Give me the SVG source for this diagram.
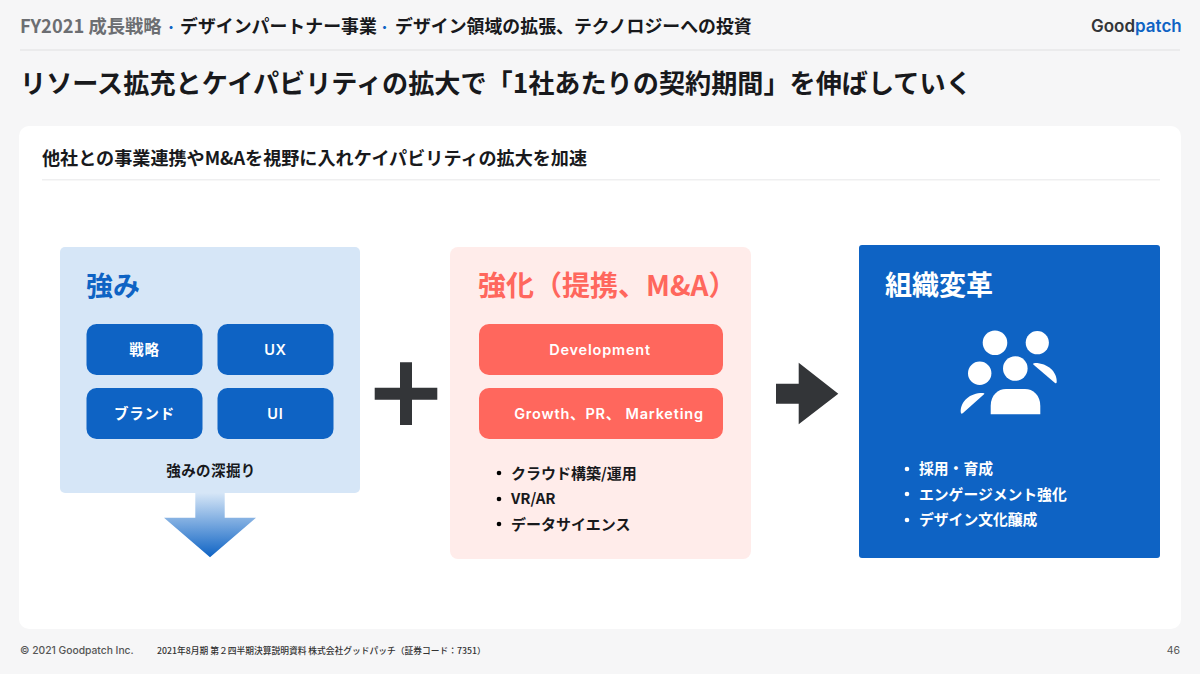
<svg xmlns="http://www.w3.org/2000/svg" width="1200" height="674" viewBox="0 0 1200 674">
<style>
text{font-family:"Noto Sans CJK JP","Noto Sans",sans-serif;font-weight:700;fill:#18191c}
.h{font-size:17.900px}
.b{font-size:14.500px;letter-spacing:.4px}
.w{fill:#fff;text-anchor:middle;font-size:14.500px;letter-spacing:.8px;font-family:Inter,"Noto Sans CJK JP",sans-serif;font-weight:600}
.l{font-size:15px}
.m{font-size:14.800px;fill:#fff}
.dark{fill:#333538}
.blue{fill:#0e63c4}
.coral{fill:#ff675d}
</style>
<defs>
<linearGradient id="g" x1="0" y1="0" x2="0" y2="1"><stop offset="0" stop-color="#d6e6f7"/><stop offset="1" stop-color="#0e63c4"/></linearGradient>
</defs>
<rect width="1200" height="674" fill="#f6f6f7"/>
<g id="header">
<text class="h" y="33"><tspan x="20" style="font-size:18.300px;fill:#6c6e72">FY2021 成長戦略</tspan><tspan x="165" style="font-size:12px;fill:#0e63c4">・</tspan><tspan x="180">デザインパートナー事業</tspan><tspan x="378.500" style="font-size:12px;fill:#0e63c4">・</tspan><tspan x="395">デザイン領域の拡張、テクノロジーへの投資</tspan></text>
<rect x="20" y="49" width="1160" height="2" fill="#ebebec"/>
<text x="1091" y="31.500" style="font-family:Inter,sans-serif;font-size:17px;font-weight:600;fill:#333538">Good<tspan style="fill:#0e63c4">patch</tspan></text>
</g>
<text id="title" x="20" y="93" style="font-size:26.150px">リソース拡充とケイパビリティの拡大で「1社あたりの契約期間」を伸ばしていく</text>
<rect x="19" y="126" width="1162" height="503" rx="10" fill="#fff"/>
<text x="42" y="165" style="font-size:18.100px">他社との事業連携やM&amp;Aを視野に入れケイパビリティの拡大を加速</text>
<rect x="42" y="179" width="1118" height="1.500" fill="#efeff0"/>

<g id="down-arrow"><path d="M195.300 493H224.700V517.700H256L210 557.300L164 517.700H195.300Z" fill="url(#g)"/></g>
<g id="strength">
<rect x="60" y="247" width="300" height="246" rx="5" fill="#d6e6f7"/>
<text x="86" y="296" style="font-size:27px;fill:#0e63c4">強み</text>
<rect class="blue" x="86.500" y="324" width="116" height="51" rx="10"/><text class="w" x="144.500" y="355">戦略</text>
<rect class="blue" x="217.500" y="324" width="116" height="51" rx="10"/><text class="w" x="275.500" y="355">UX</text>
<rect class="blue" x="86.500" y="388" width="116" height="51" rx="10"/><text class="w" x="144.500" y="419">ブランド</text>
<rect class="blue" x="217.500" y="388" width="116" height="51" rx="10"/><text class="w" x="275.500" y="419">UI</text>
<text class="b" x="211" y="476" text-anchor="middle">強みの深掘り</text>
</g>
<g id="plus"><path class="dark" d="M400 362.300H412V387.700H437.300V399.700H412V425H400V399.700H374.700V387.700H400Z"/></g>
<g id="reinforce">
<rect x="450" y="247" width="301" height="312" rx="8" fill="#ffecea"/>
<text x="478" y="296" style="font-size:28px;fill:#ff675d">強化（提携、M&amp;A）</text>
<rect class="coral" x="479" y="324" width="244" height="51" rx="10"/><text class="w" x="600" y="355">Development</text>
<rect class="coral" x="479" y="388" width="244" height="51" rx="10"/><text class="w" x="609" y="419">Growth、PR、 Marketing</text>
<circle cx="499" cy="473" r="2.300"/><text class="l" x="511" y="478.500">クラウド構築/運用</text>
<circle cx="499" cy="499" r="2.300"/><text class="l" x="511" y="504">VR/AR</text>
<circle cx="499" cy="524" r="2.300"/><text class="l" x="511" y="529.500">データサイエンス</text>
</g>
<g id="connectors"><path class="dark" d="M776 383.700H798.700V362.700L838.300 393.700L798.700 424.300V403.700H776Z"/></g>
<g id="org">
<rect class="blue" x="859" y="245" width="301" height="313" rx="3"/>
<text x="885" y="295" style="font-size:27px;fill:#fff">組織変革</text>
<g fill="#fff">
<circle cx="995" cy="342.700" r="12.300"/><circle cx="1037.300" cy="342.700" r="11.600"/><circle cx="1015.300" cy="368.500" r="12.300"/><circle cx="979.700" cy="373.300" r="11.700"/>
<path d="M990.700 414.300V406C990.700 395 998 389 1006 389H1025C1033 389 1040.300 395 1040.300 406V414.300Z"/>
<path d="M1033.300 364.500Q1032.500 363 1035 363C1048 363 1057 372 1056.700 382Q1056.500 384 1055 383Z"/>
<path d="M984.300 394Q985 393 982.500 393C970 393 960.500 401 960.700 412Q961 415 963 413Z"/>
</g>
<text class="m" x="919" y="474">採用・育成</text><circle cx="907" cy="469" r="2.300" fill="#fff"/>
<text class="m" x="919" y="500">エンゲージメント強化</text><circle cx="907" cy="494" r="2.300" fill="#fff"/>
<text class="m" x="919" y="525">デザイン文化醸成</text><circle cx="907" cy="520" r="2.300" fill="#fff"/>
</g>
<g id="footer">
<text x="20" y="654" style="font-family:Inter,sans-serif;font-size:10.300px;font-weight:500;fill:#555">© 2021 Goodpatch Inc.</text>
<text x="157" y="654" style="font-size:8.750px;font-weight:500;fill:#333">2021年8月期 第２四半期決算説明資料 株式会社グッドパッチ（証券コード：7351）</text>
<text x="1180" y="654" text-anchor="end" style="font-family:Inter,sans-serif;font-size:10.500px;font-weight:400;fill:#555">46</text>
</g>
</svg>
